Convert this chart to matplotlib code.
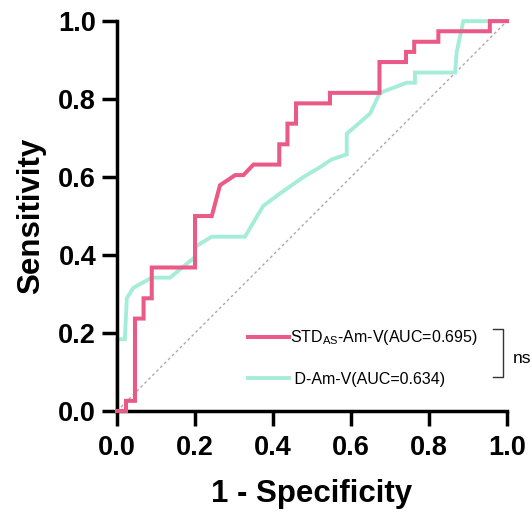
import matplotlib
matplotlib.use('Agg')
import matplotlib.pyplot as plt

plt.rcParams['font.family'] = ['Liberation Sans', 'DejaVu Sans']

# ROC points (1 - specificity, sensitivity)
std_fpr = [0.0, 0.023, 0.023, 0.046, 0.046, 0.068, 0.068, 0.089, 0.089, 0.2, 0.2,
           0.243, 0.264, 0.303, 0.324, 0.35, 0.416, 0.416, 0.437, 0.437, 0.459,
           0.459, 0.546, 0.546, 0.673, 0.673, 0.741, 0.741, 0.762, 0.762, 0.824,
           0.824, 0.956, 0.956, 1.0]
std_tpr = [0.0, 0.0, 0.026, 0.026, 0.237, 0.237, 0.289, 0.289, 0.368, 0.368, 0.5,
           0.5, 0.579, 0.605, 0.605, 0.632, 0.632, 0.684, 0.684, 0.737, 0.737,
           0.789, 0.789, 0.816, 0.816, 0.895, 0.895, 0.921, 0.921, 0.947, 0.947,
           0.974, 0.974, 1.0, 1.0]

d_fpr = [0.0, 0.0, 0.02, 0.025, 0.042, 0.089, 0.136, 0.2, 0.2, 0.243, 0.328,
         0.375, 0.418, 0.478, 0.52, 0.55, 0.589, 0.589, 0.649, 0.674, 0.743,
         0.764, 0.764, 0.867, 0.871, 0.888, 1.0]
d_tpr = [0.0, 0.184, 0.184, 0.289, 0.316, 0.342, 0.342, 0.395, 0.421, 0.447, 0.447,
         0.526, 0.558, 0.6, 0.625, 0.645, 0.658, 0.711, 0.763, 0.816, 0.842,
         0.842, 0.868, 0.868, 0.921, 1.0, 1.0]

labels = ['STD$_{\\mathregular{AS}}$-Am-V(AUC=0.695)', ' D-Am-V(AUC=0.634)']
colors = ['#EA5A87', '#A6EDD9']
ticks = [0.0, 0.2, 0.4, 0.6, 0.8, 1.0]

fig = plt.figure(figsize=(5.32, 5.15), dpi=100)
ax = fig.add_axes([0.22, 0.202, 0.733, 0.757])

ax.plot([0, 1], [0, 1], linestyle=(0, (2, 2)), color='#aaaaaa', linewidth=1.0)
ax.plot(std_fpr, std_tpr, color=colors[0], linewidth=2.9, label=labels[0],
        clip_on=False, zorder=3, solid_joinstyle='miter')
ax.plot(d_fpr, d_tpr, color=colors[1], linewidth=2.8, label=labels[1],
        clip_on=False, zorder=2, solid_joinstyle='miter')

ax.set_xlim(0, 1)
ax.set_ylim(0, 1)
ax.set_xticks(ticks)
ax.set_yticks(ticks)
ax.set_xticklabels(['%.1f' % t for t in ticks], fontsize=19.5, fontweight='bold')
ax.set_yticklabels(['%.1f' % t for t in ticks], fontsize=19.5, fontweight='bold')
ax.tick_params(axis='x', width=2.5, length=11, pad=6)
ax.tick_params(axis='y', width=2.5, length=11, pad=4)
for s in ['top', 'right']:
    ax.spines[s].set_visible(False)
for s in ['left', 'bottom']:
    ax.spines[s].set_linewidth(2.5)

ax.set_xlabel('1 - Specificity', fontsize=22.5, fontweight='bold', labelpad=13)
ax.set_ylabel('Sensitivity', fontsize=22.5, fontweight='bold', labelpad=8.5)

leg = ax.legend(loc='upper left', bbox_to_anchor=(0.335, 0.212), frameon=False,
                fontsize=11.5, handlelength=2.6, handletextpad=0.05,
                labelspacing=1.55, borderpad=0, borderaxespad=0)

# significance bracket
ax.plot([0.964, 0.991, 0.991, 0.964], [0.21, 0.21, 0.087, 0.087],
        transform=ax.transAxes, color='#333333', linewidth=1.0, clip_on=False)
ax.text(1.015, 0.135, 'ns', transform=ax.transAxes, fontsize=12.5,
        ha='left', va='center', clip_on=False)

fig.savefig('out.png', dpi=100)
